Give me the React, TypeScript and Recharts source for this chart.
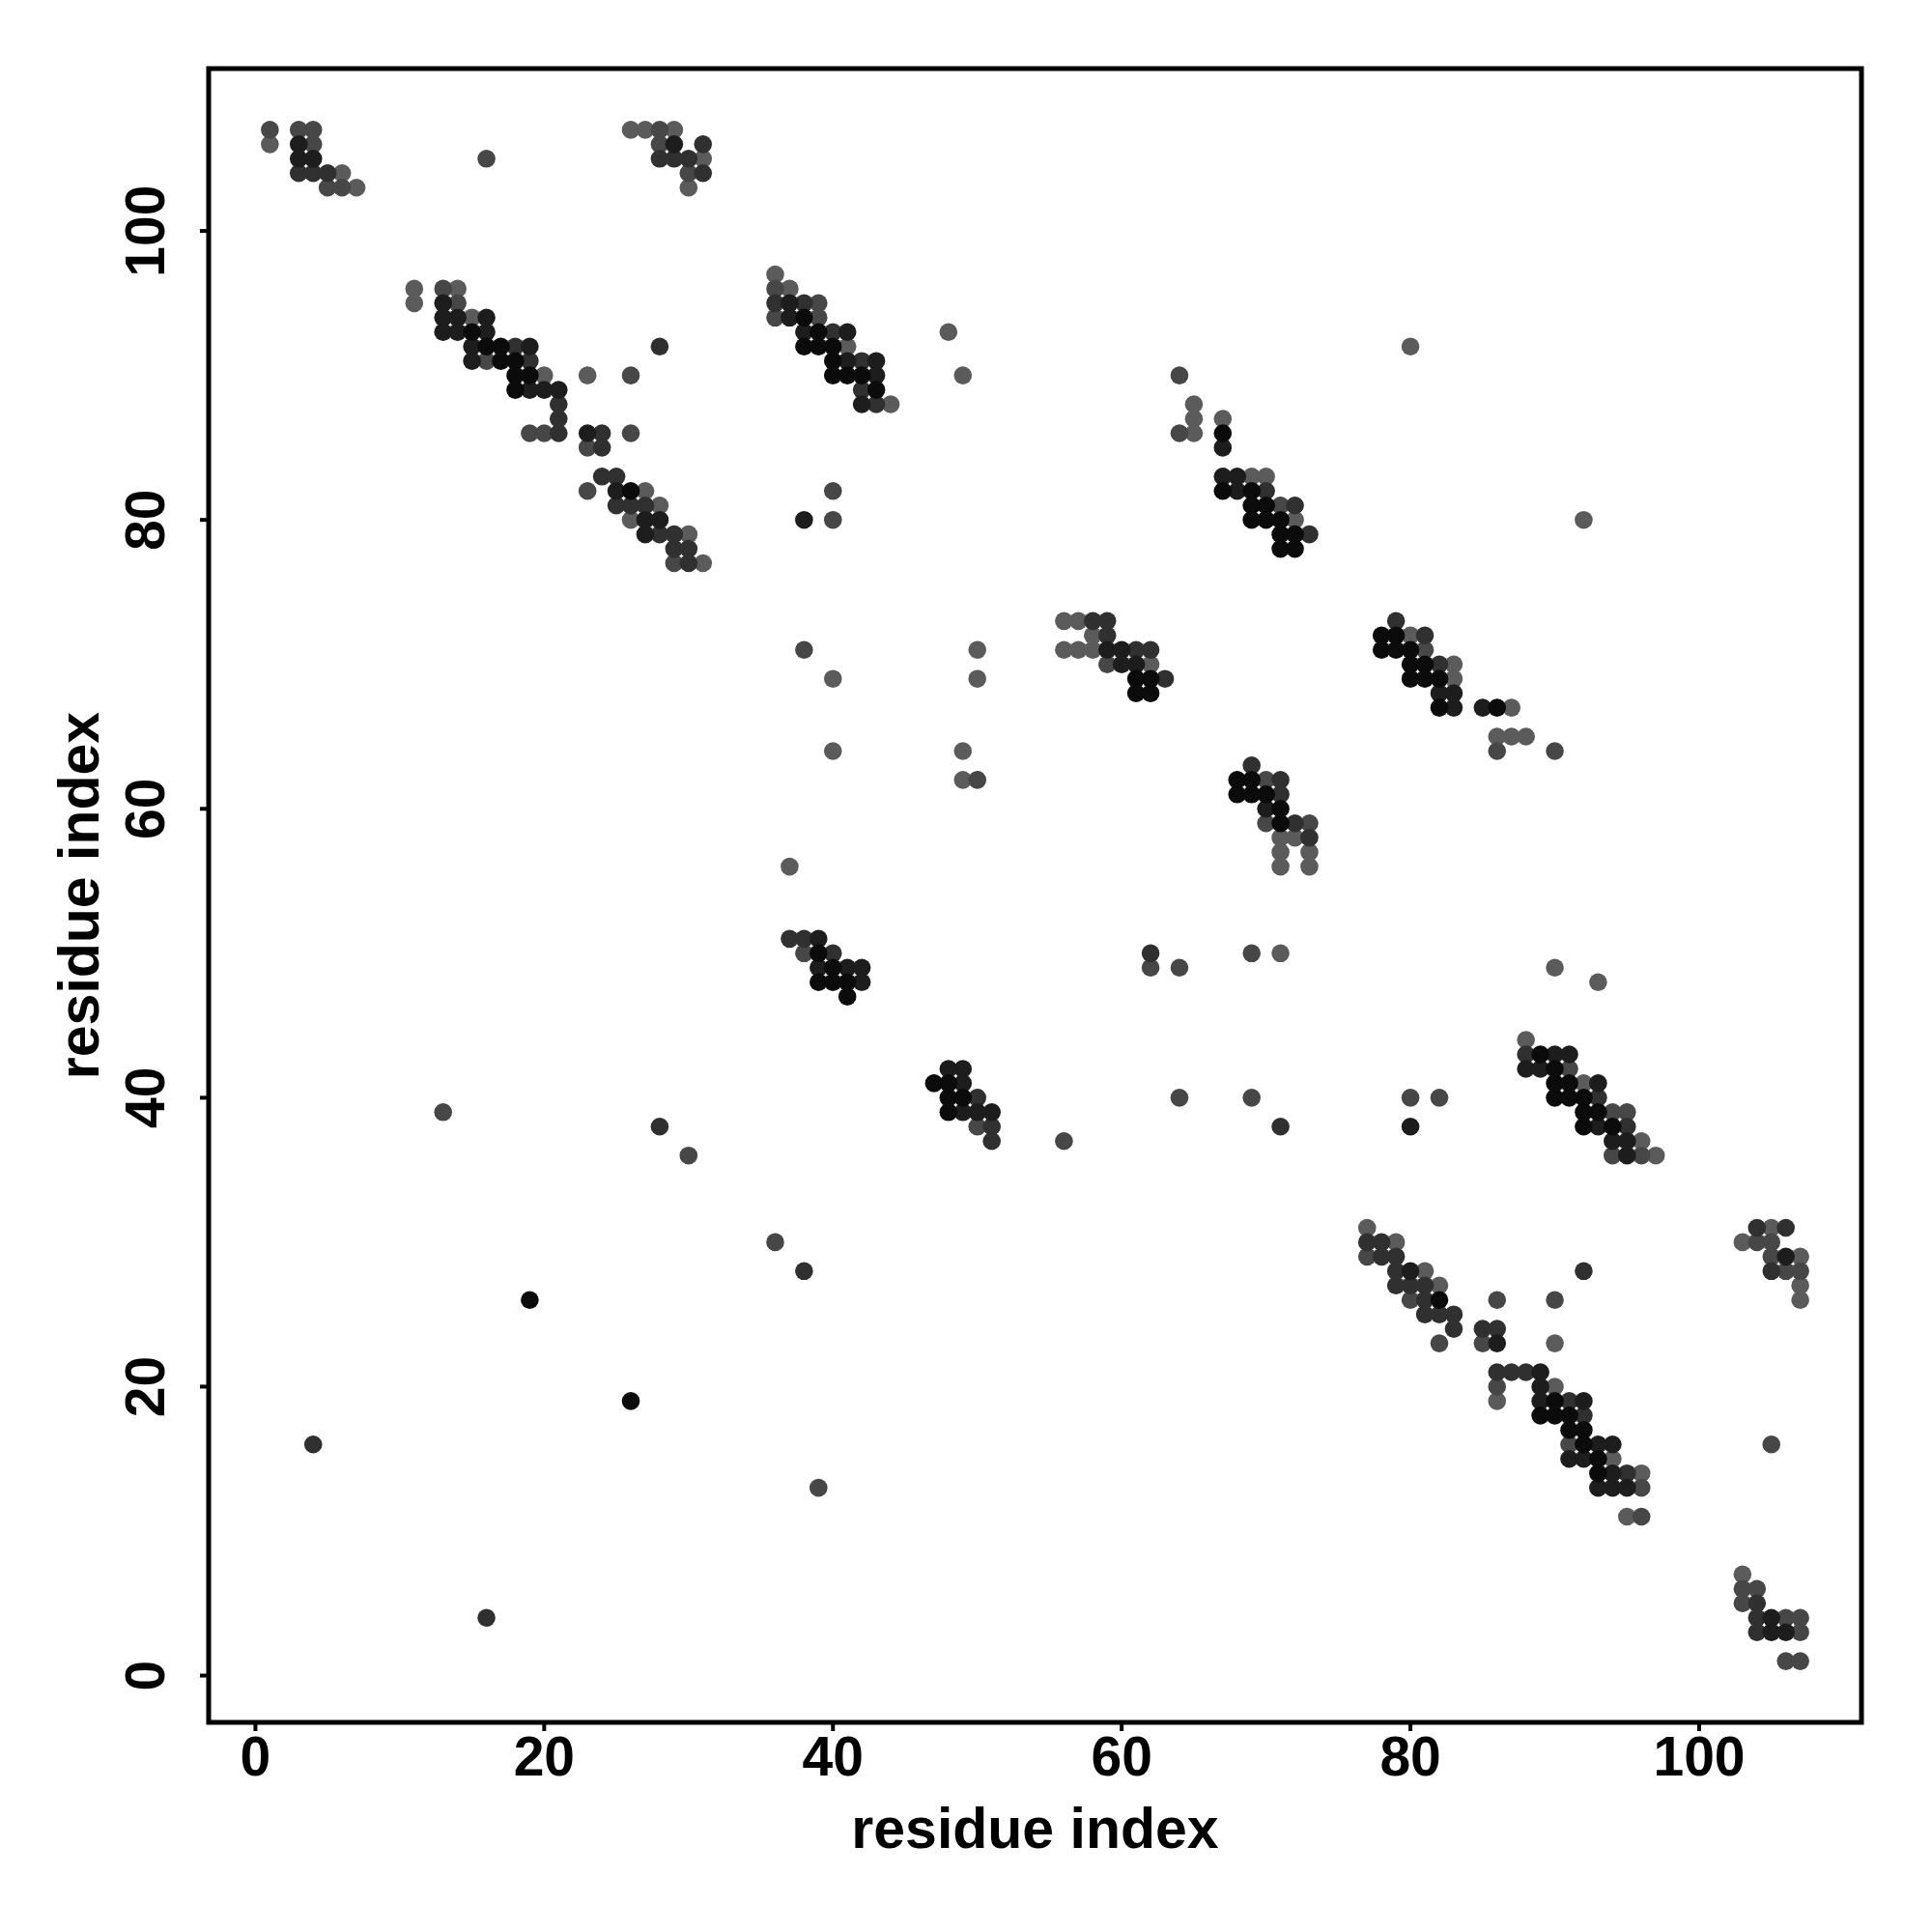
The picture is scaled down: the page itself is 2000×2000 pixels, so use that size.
import { ScatterChart, Scatter, XAxis, YAxis, ReferenceArea, Label } from 'recharts'

type Contact = [number, number]

const AXIS_TICKS = [0, 20, 40, 60, 80, 100]
// data spans 1..107, padded by 4% on each side
const DOMAIN: [number, number] = [-3.24, 111.24]
const X_TITLE = 'residue index'
const Y_TITLE = 'residue index'

// contacts grouped by grey level, darkest first
const level1: Contact[] = [
  [15, 93], [16, 92], [17, 92], [17, 91], [18, 91], [18, 90], [19, 90], [18, 89], [26, 82],
  [38, 94], [39, 93], [38, 92], [39, 92], [40, 92], [40, 91], [40, 90], [41, 90], [42, 90], [43, 89],
  [67, 86], [67, 82], [69, 82], [69, 81], [70, 81], [69, 80], [70, 80], [71, 80], [71, 79], [72, 79], [71, 78], [72, 78],
  [78, 72], [79, 72], [78, 71], [79, 71], [80, 71], [80, 70], [81, 70], [80, 69], [81, 69], [82, 69], [82, 67], [86, 67],
  [89, 43], [90, 42], [90, 41], [91, 41], [90, 40], [91, 40], [92, 40], [92, 39], [93, 39], [92, 38], [94, 38],
  [61, 69], [62, 69], [61, 68], [62, 68], [68, 62], [69, 62], [68, 61], [69, 61], [70, 61], [71, 60], [71, 59],
  [39, 50], [40, 49], [39, 48], [40, 48], [41, 48], [41, 47],
  [47, 41], [48, 41], [48, 40], [49, 40], [48, 39],
  [19, 26], [26, 19],
  [82, 26], [90, 19], [89, 18], [90, 18], [91, 18], [91, 17], [92, 17], [92, 16], [93, 15], [93, 14],
]

const level2: Contact[] = [
  [3, 106], [3, 105], [4, 105], [29, 106],
  [13, 95], [13, 94], [14, 94], [16, 94], [13, 93], [14, 93], [16, 93], [15, 92], [19, 92], [15, 91],
  [19, 89], [20, 89], [21, 89], [23, 86], [25, 82], [27, 80], [28, 80], [27, 79],
  [37, 95], [37, 94], [38, 93], [41, 93], [41, 91], [43, 91], [43, 90], [42, 88],
  [67, 85], [67, 83], [68, 83], [68, 82], [38, 80],
  [82, 68], [83, 68], [83, 67], [85, 67],
  [90, 43], [91, 43], [88, 42], [89, 42], [93, 41], [93, 38], [94, 37], [95, 37], [95, 36], [80, 38],
  [59, 71], [60, 71], [60, 70], [61, 70], [70, 60],
  [39, 51], [39, 49], [41, 49], [42, 49], [42, 48],
  [48, 42], [49, 42], [49, 41], [49, 39], [50, 39], [51, 39],
  [106, 29], [80, 28], [86, 23], [89, 21], [89, 20], [89, 19], [92, 19], [93, 16], [94, 16], [91, 15],
  [92, 15], [94, 14], [93, 13], [94, 13], [95, 13], [105, 4], [105, 3], [106, 3],
]

const level3: Contact[] = [
  [3, 104], [4, 104], [5, 104], [31, 106], [28, 105], [29, 105], [30, 105], [31, 104],
  [18, 92], [19, 91], [21, 88], [21, 87], [21, 86], [24, 86], [24, 85], [28, 92], [24, 83], [25, 83],
  [25, 81], [26, 81], [27, 81], [28, 79], [29, 79], [29, 78], [30, 78], [30, 77],
  [36, 95], [38, 95], [40, 93], [42, 91], [42, 89], [43, 88], [70, 82], [72, 81], [73, 79],
  [58, 73], [59, 73], [79, 73], [81, 72], [82, 70],
  [73, 58], [88, 43], [93, 40], [95, 38],
  [59, 72], [61, 71], [62, 71], [63, 69], [69, 63], [71, 62], [71, 61], [72, 59],
  [37, 51], [38, 51], [40, 50], [62, 50], [50, 40], [51, 38], [71, 38], [51, 37],
  [28, 38], [4, 16], [16, 4], [38, 28],
  [104, 31], [106, 31], [77, 30], [78, 30], [78, 29], [79, 29], [79, 28], [92, 28], [105, 28],
  [79, 27], [80, 27], [81, 27], [81, 26], [81, 25], [82, 25], [83, 25], [83, 24], [85, 24], [86, 24],
  [86, 21], [87, 21], [88, 21], [91, 19], [92, 18], [95, 14], [104, 5], [104, 4], [104, 3],
]

const level4: Contact[] = [
  [1, 107], [3, 107], [4, 107], [4, 106], [5, 103], [6, 103], [16, 105], [28, 107], [28, 106], [30, 104],
  [13, 96], [14, 95], [16, 91], [26, 90], [19, 86], [20, 86], [26, 86], [23, 85], [23, 82], [29, 77],
  [36, 96], [39, 95], [36, 94], [39, 94], [64, 90], [64, 86], [71, 81], [40, 82], [40, 80],
  [81, 71], [86, 64], [90, 64], [73, 59], [91, 42], [94, 39], [95, 39], [94, 36], [96, 36], [80, 40], [82, 40],
  [38, 71], [50, 62], [59, 70], [70, 62], [70, 59], [38, 50], [62, 49], [64, 49], [69, 50], [64, 40],
  [69, 40], [50, 38], [56, 37],
  [13, 39], [30, 36], [36, 30], [39, 13],
  [104, 30], [105, 30], [77, 29], [105, 29], [106, 28], [107, 28], [80, 26], [86, 26], [90, 26], [82, 23],
  [85, 23], [86, 20], [91, 16], [105, 16], [96, 13], [96, 11], [103, 6], [104, 6], [103, 5], [106, 4],
  [107, 4], [107, 3], [106, 1], [107, 1],
]

const level5: Contact[] = [
  [1, 106], [6, 104], [7, 103], [26, 107], [27, 107], [29, 107], [31, 105], [30, 103],
  [11, 96], [14, 96], [11, 95], [15, 94], [20, 90], [23, 90], [27, 82], [28, 81], [26, 80], [30, 79], [31, 77],
  [36, 97], [37, 96], [41, 92], [48, 93], [49, 90], [44, 88], [65, 88], [65, 87], [67, 87], [65, 86],
  [69, 83], [70, 83], [72, 80], [56, 73], [57, 73], [80, 92], [92, 80],
  [80, 72], [83, 70], [83, 69], [87, 67], [86, 65], [87, 65], [88, 65], [73, 57], [73, 56],
  [90, 49], [93, 48], [88, 44], [92, 41], [96, 37], [97, 36],
  [40, 69], [50, 71], [50, 69], [40, 64], [49, 64], [49, 62], [37, 56], [58, 72], [56, 71], [57, 71],
  [58, 71], [62, 70], [71, 58], [72, 58], [71, 57], [71, 56], [71, 50],
  [77, 31], [105, 31], [79, 30], [103, 30], [107, 29], [81, 28], [82, 27], [107, 27], [107, 26],
  [90, 23], [90, 20], [86, 19], [94, 15], [96, 14], [95, 11], [103, 7],
]

const LEVELS = [level5, level4, level3, level2, level1]
const LEVEL_COLORS = ['#5b5b5b', '#474747', '#303030', '#1d1d1d', '#0b0b0b']

const FONT = '"Liberation Sans", Arial, Helvetica, sans-serif'
const DOT_R = 9.3

const toRows = (pts: Contact[]) => pts.map(([x, y]) => ({ x, y }))

const XTick = (props: any) => {
  const { x, y, payload } = props
  return (
    <text x={x} y={y + 46} textAnchor="middle" fontSize={57} fontWeight="bold" fontFamily={FONT} fill="#000">
      {payload.value}
    </text>
  )
}

const YTick = (props: any) => {
  const { x, y, payload } = props
  const bx = x - 37
  return (
    <text
      x={bx}
      y={y}
      transform={`rotate(-90, ${bx}, ${y})`}
      textAnchor="middle"
      fontSize={57}
      fontWeight="bold"
      fontFamily={FONT}
      fill="#000"
    >
      {payload.value}
    </text>
  )
}

export default function App() {
  return (
    <div style={{ width: 1992, height: 1992, background: '#fff' }}>
      <ScatterChart width={1992} height={1992} margin={{ top: 63, right: 73, bottom: 0, left: 0 }}>
        <XAxis
          type="number"
          dataKey="x"
          domain={DOMAIN}
          allowDataOverflow
          ticks={AXIS_TICKS}
          interval={0}
          height={217}
          axisLine={false}
          tickSize={9}
          tickMargin={0}
          tickLine={{ stroke: '#000', strokeWidth: 4 }}
          tick={<XTick />}
        >
          <Label
            content={(p: any) => {
              const vb = p.viewBox || {}
              return (
                <text
                  x={vb.x + vb.width / 2}
                  y={vb.y + 130}
                  textAnchor="middle"
                  fontSize={59}
                  fontWeight="bold"
                  fontFamily={FONT}
                  fill="#000"
                >
                  {X_TITLE}
                </text>
              )
            }}
          />
        </XAxis>
        <YAxis
          type="number"
          dataKey="y"
          domain={DOMAIN}
          allowDataOverflow
          ticks={AXIS_TICKS}
          interval={0}
          width={208}
          axisLine={false}
          tickSize={9}
          tickMargin={0}
          tickLine={{ stroke: '#000', strokeWidth: 4 }}
          tick={<YTick />}
        >
          <Label
            content={(p: any) => {
              const vb = p.viewBox || {}
              const bx = vb.x + 94
              const cy = vb.y + vb.height / 2
              return (
                <text
                  x={bx}
                  y={cy}
                  transform={`rotate(-90, ${bx}, ${cy})`}
                  textAnchor="middle"
                  fontSize={59}
                  fontWeight="bold"
                  fontFamily={FONT}
                  fill="#000"
                >
                  {Y_TITLE}
                </text>
              )
            }}
          />
        </YAxis>
        <ReferenceArea
          x1={DOMAIN[0]}
          x2={DOMAIN[1]}
          y1={DOMAIN[0]}
          y2={DOMAIN[1]}
          ifOverflow="visible"
          fill="none"
          fillOpacity={0}
          stroke="#000"
          strokeWidth={5}
        />
        {LEVELS.map((pts, i) => (
          <Scatter
            key={i}
            data={toRows(pts)}
            fill={LEVEL_COLORS[i]}
            isAnimationActive={false}
            shape={(p: any) => <circle cx={p.cx} cy={p.cy} r={DOT_R} fill={LEVEL_COLORS[i]} />}
          />
        ))}
      </ScatterChart>
    </div>
  )
}
